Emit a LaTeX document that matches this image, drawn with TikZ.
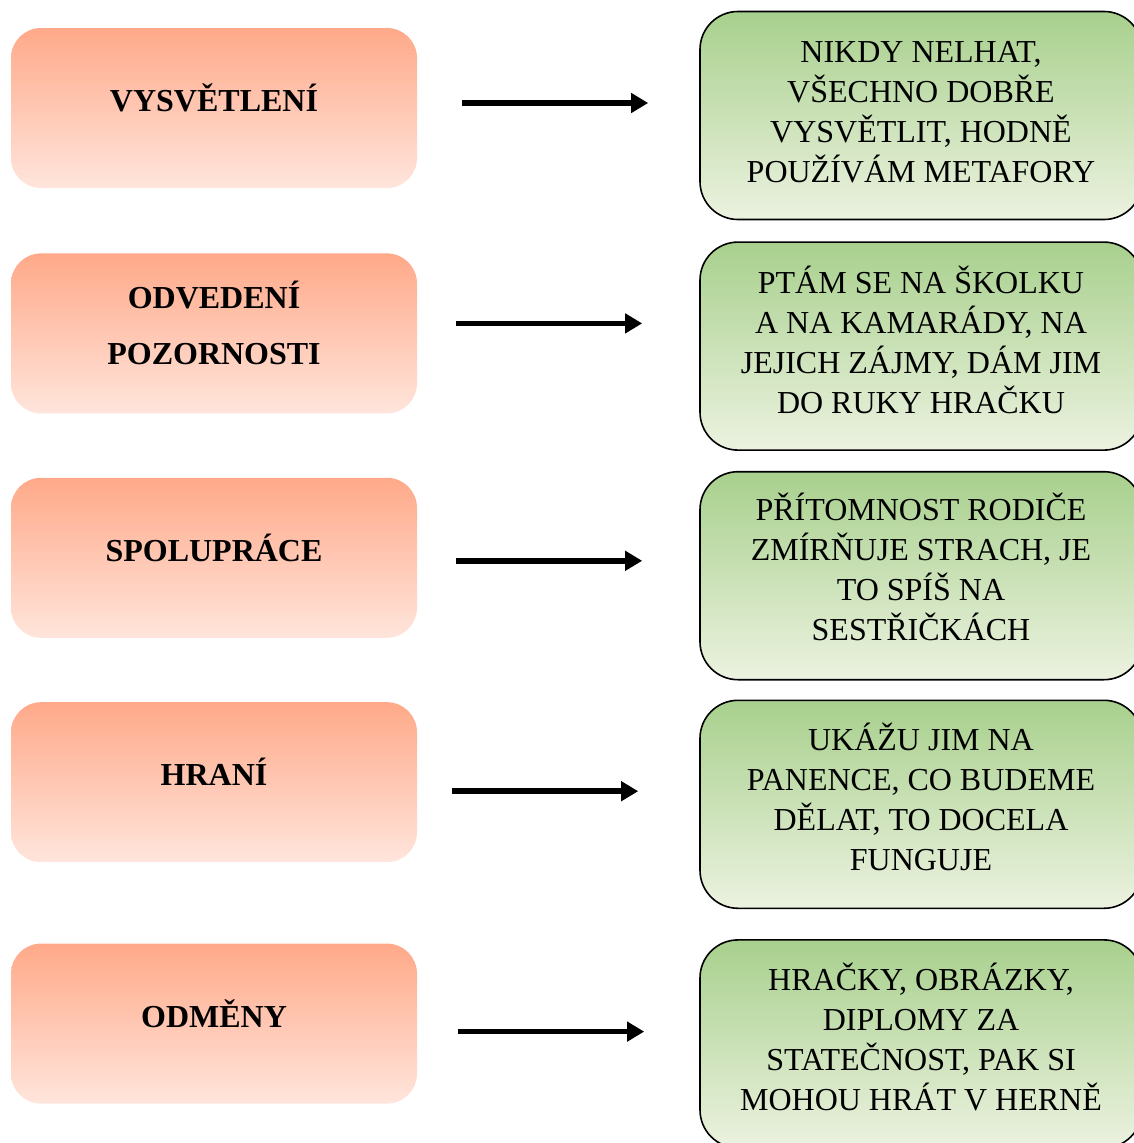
\documentclass[tikz,border=0pt]{standalone}
\usepackage{fontspec}
\setmainfont{Liberation Serif}
\usetikzlibrary{arrows.meta, positioning}

\definecolor{salmonTop}{RGB}{255,169,137}
\definecolor{salmonBot}{RGB}{255,229,220}
\definecolor{leafTop}{RGB}{168,208,141}
\definecolor{leafBot}{RGB}{236,242,224}

\begin{document}
\begin{tikzpicture}[
    x=1pt, y=-1pt,
    lbox/.style={rectangle, draw=none, top color=salmonTop, bottom color=salmonBot,
                 minimum width=406pt, minimum height=160pt, rounded corners=30pt},
    rbox/.style={rectangle, draw=black, line width=1.6pt, top color=leafTop,
                 bottom color=leafBot, minimum width=442pt, minimum height=208pt,
                 rounded corners=38pt},
    ltext/.style={font=\fontsize{32}{56}\selectfont\bfseries, align=center},
    rtext/.style={font=\fontsize{32}{40}\selectfont, align=center},
    arr/.style={-{Triangle[length=17pt,width=19pt]}, line width=5.5pt, draw=black}
]
\useasboundingbox (0,0) rectangle (1134,1143);

% levy sloupec
\node[lbox] (l1) at (214,108) {};
\node[lbox, below=65pt of l1] (l2) {};
\node[lbox, below=64pt of l2] (l3) {};
\node[lbox, below=64pt of l3] (l4) {};
\node[lbox, below=81pt of l4] (l5) {};

% pravy sloupec
\node[rbox] (r1) at (921,115.5) {};
\node[rbox, below=21pt of r1] (r2) {};
\node[rbox, below=20pt of r2] (r3) {};
\node[rbox, below=19pt of r3] (r4) {};
\node[rbox, below=30pt of r4] (r5) {};

\node[ltext] (n1) at ([yshift=10pt]l1.center) {VYSVĚTLENÍ};
\node[ltext] (n2) at ([yshift=10pt]l2.center) {ODVEDENÍ\\POZORNOSTI};
\node[ltext] (n3) at ([yshift=10pt]l3.center) {SPOLUPRÁCE};
\node[ltext] (n4) at ([yshift=10pt]l4.center) {HRANÍ};
\node[ltext] (n5) at ([yshift=10pt]l5.center) {ODMĚNY};

\node[rtext] (p1) at ([yshift=3pt]r1.center) {NIKDY NELHAT,\\VŠECHNO DOBŘE\\VYSVĚTLIT, HODNĚ\\POUŽÍVÁM METAFORY};
\node[rtext] (p2) at ([yshift=6pt]r2.center) {PTÁM SE NA ŠKOLKU\\A NA KAMARÁDY, NA\\JEJICH ZÁJMY, DÁM JIM\\DO RUKY HRAČKU};
\node[rtext] (p3) at ([yshift=9pt]r3.center) {PŘÍTOMNOST RODIČE\\ZMÍRŇUJE STRACH, JE\\TO SPÍŠ NA\\SESTŘIČKÁCH};
\node[rtext] (p4) at ([yshift=7pt]r4.center) {UKÁŽU JIM NA\\PANENCE, CO BUDEME\\DĚLAT, TO DOCELA\\FUNGUJE};
\node[rtext] (p5) at ([yshift=7pt]r5.center) {HRAČKY, OBRÁZKY,\\DIPLOMY ZA\\STATEČNOST, PAK SI\\MOHOU HRÁT V HERNĚ};

\draw[arr] ([xshift=45pt,yshift=5pt]l1.east) -- ++(186,0);
\draw[arr] ([xshift=39pt,yshift=10pt]l2.east) -- ++(186,0);
\draw[arr] ([xshift=39pt,yshift=-3pt]l3.east) -- ++(186,0);
\draw[arr] ([xshift=35pt,yshift=-9pt]l4.east) -- ++(186,0);
\draw[arr] ([xshift=41pt,yshift=-8pt]l5.east) -- ++(186,0);
\end{tikzpicture}
\end{document}
